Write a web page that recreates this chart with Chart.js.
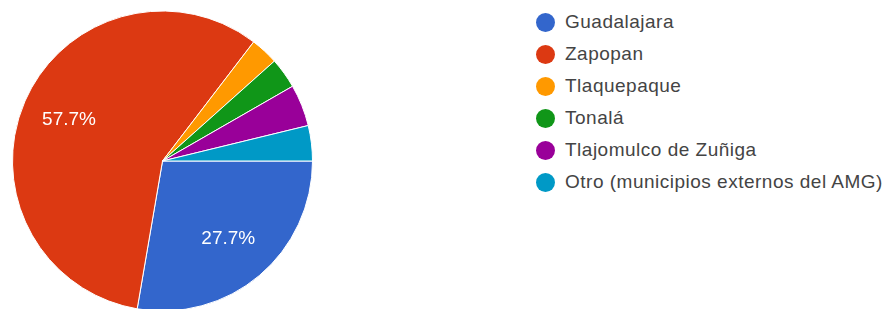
<!DOCTYPE html>
<html lang="es">
<head>
  <meta charset="UTF-8"/>
  <title>Municipio</title>
  <script src="https://cdn.jsdelivr.net/npm/chart.js"></script>
  <style>
    html, body { margin: 0; padding: 0; background: #fff; overflow: hidden; }
    body { width: 889px; height: 309px; position: relative; font-family: "Liberation Sans", Arial, sans-serif; }
    .pie-box { position: absolute; left: 0; top: 0; width: 325px; height: 322px; }
    .legend { position: absolute; left: 536px; top: 6px; margin: 0; padding: 0; list-style: none; }
    .legend li { display: flex; align-items: center; height: 32px; font-size: 19px; letter-spacing: 0.5px; color: #444; white-space: nowrap; }
    .legend .dot { width: 19px; height: 19px; border-radius: 50%; margin-right: 10px; flex: none; }
  </style>
</head>
<body>
  <div class="pie-box"><canvas id="pieChart"></canvas></div>
  <ul class="legend" id="legend"></ul>
  <script>
    const labels = [
      "Guadalajara", "Zapopan", "Tlaquepaque", "Tonalá",
      "Tlajomulco de Zuñiga", "Otro (municipios externos del AMG)"
    ];
    const percents = [27.7, 57.7, 3.0, 3.3, 4.5, 3.8];
    const colors = ["#3366cc", "#dc3912", "#ff9900", "#109618", "#990099", "#0099c6"];

    // white % labels inside the big slices
    const sliceLabels = {
      id: "sliceLabels",
      afterDatasetsDraw(chart) {
        const ctx = chart.ctx;
        const meta = chart.getDatasetMeta(0);
        ctx.save();
        ctx.fillStyle = "#fff";
        ctx.font = "19px 'Liberation Sans', Arial, sans-serif";
        ctx.textAlign = "center";
        ctx.textBaseline = "middle";
        meta.data.forEach((arc, i) => {
          if (percents[i] < 10) return;
          const mid = (arc.startAngle + arc.endAngle) / 2;
          const r = arc.outerRadius * 0.68;
          ctx.fillText(percents[i].toFixed(1) + "%", arc.x + Math.cos(mid) * r, arc.y + Math.sin(mid) * r);
        });
        ctx.restore();
      }
    };

    new Chart(document.getElementById("pieChart"), {
      type: "pie",
      data: {
        labels,
        datasets: [{
          data: percents,
          backgroundColor: colors,
          borderColor: "#fff",
          borderWidth: 1
        }]
      },
      options: {
        responsive: true,
        maintainAspectRatio: false,
        animation: false,
        rotation: 90,
        radius: 150,
        plugins: { legend: { display: false }, tooltip: { enabled: false } }
      },
      plugins: [sliceLabels]
    });

    const legendEl = document.getElementById("legend");
    labels.forEach((name, i) => {
      const li = document.createElement("li");
      li.innerHTML = `<span class="dot" style="background:${colors[i]}"></span><span>${name}</span>`;
      legendEl.appendChild(li);
    });
  </script>
</body>
</html>
